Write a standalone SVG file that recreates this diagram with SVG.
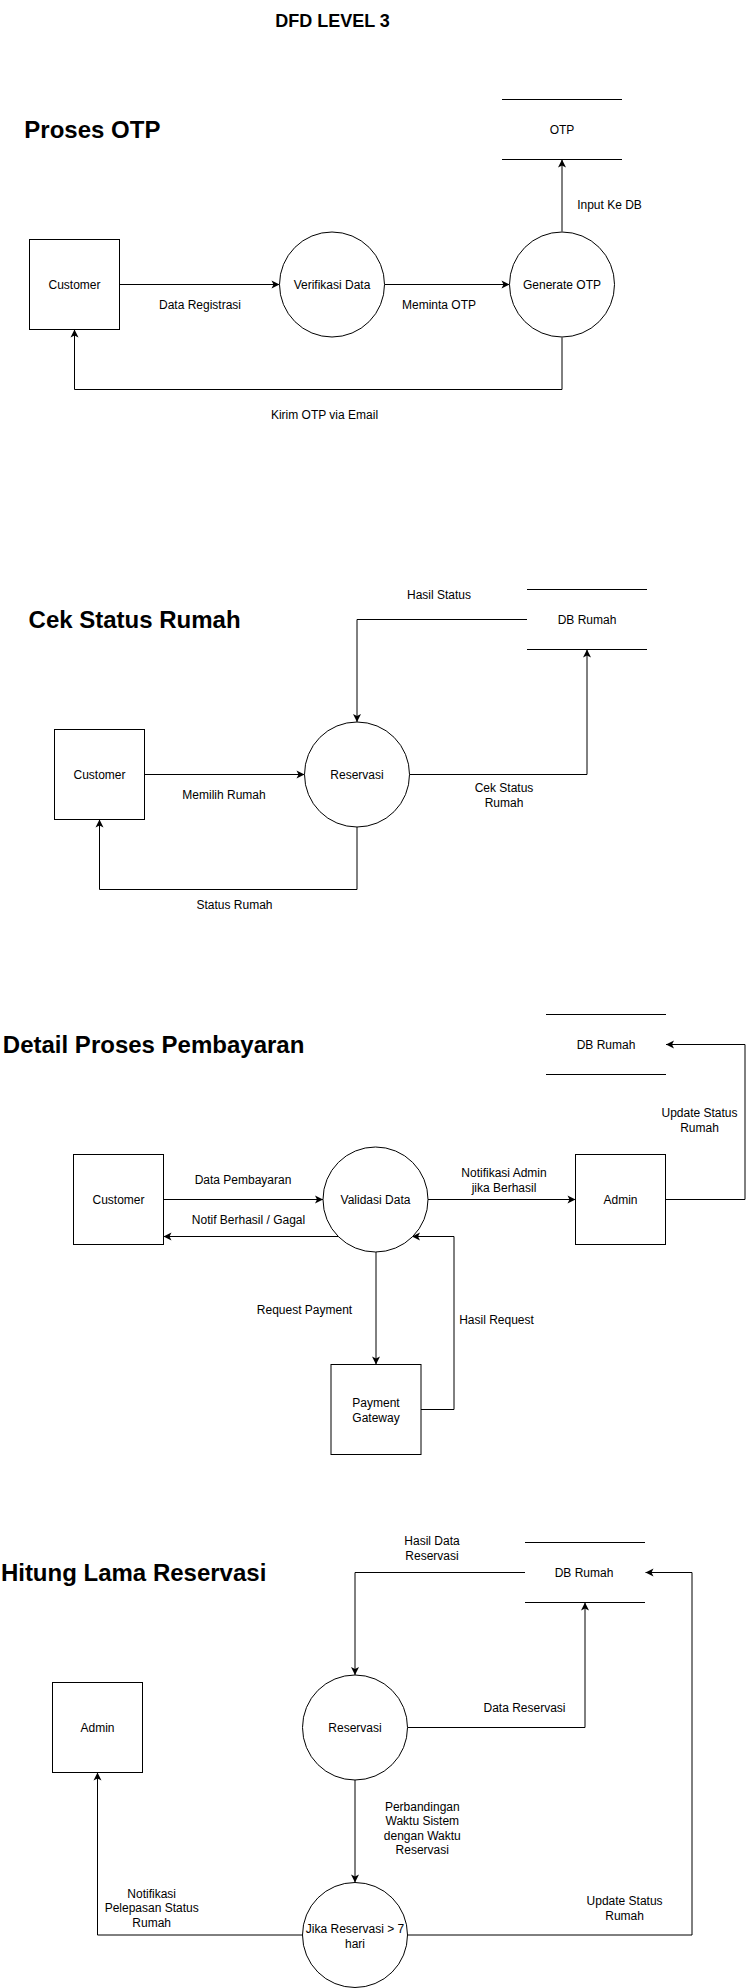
<svg xmlns="http://www.w3.org/2000/svg" width="755" height="1988" viewBox="0 0 755 1988">
<defs>
<marker id="arr" markerUnits="userSpaceOnUse" markerWidth="9" markerHeight="9" viewBox="0 0 9 9" refX="8.5" refY="4.5" orient="auto"><path d="M8.5,4.5 L0.5,0.5 L2.5,4.5 L0.5,8.5 Z" fill="#000"/></marker>
<style>
text{font-family:"Liberation Sans",Arial,sans-serif;font-size:12px;fill:#000;text-anchor:middle}
.h{font-weight:bold;font-size:24px}
.t{font-weight:bold;font-size:18px}
.n{fill:#fff;stroke:#000;stroke-width:1}
.s{stroke:#000;stroke-width:1;fill:none}
#connectors path{fill:none;stroke:#000;stroke-width:1;marker-end:url(#arr)}
</style>
</defs>
<rect width="755" height="1988" fill="#fff"/>

<g id="titles">
<text class="t" x="332.5" y="26.5">DFD LEVEL 3</text>
<text class="h" x="92.4" y="137.5">Proses OTP</text>
<text class="h" x="134.6" y="627.8">Cek Status Rumah</text>
<text class="h" x="153.6" y="1052.5">Detail Proses Pembayaran</text>
<text class="h" x="133.6" y="1581.3">Hitung Lama Reservasi</text>
</g>

<g id="connectors">
<!-- Proses OTP -->
<path d="M119.5,284.5 H279.5"/>
<path d="M384.5,284.5 H509.5"/>
<path d="M562,231.5 V159.5"/>
<path d="M562,337.5 V389.5 H74.5 V329.5"/>
<!-- Cek Status Rumah -->
<path d="M144.5,774.5 H304.5"/>
<path d="M409.5,774.5 H587 V649.5"/>
<path d="M527,619.5 H357 V722"/>
<path d="M357,827 V889.5 H99.5 V819.5"/>
<!-- Detail Proses Pembayaran -->
<path d="M163.5,1199.5 H323"/>
<path d="M339,1236.5 H163.5"/>
<path d="M428,1199.5 H575.5"/>
<path d="M665.5,1199.5 H745 V1044.5 H666"/>
<path d="M376,1252 V1364.5"/>
<path d="M421,1409.5 H454 V1236.5 H412"/>
<!-- Hitung Lama Reservasi -->
<path d="M525,1572.5 H355 V1675"/>
<path d="M407.5,1727.5 H585 V1602.5"/>
<path d="M355,1780 V1882.5"/>
<path d="M302.5,1935 H97.5 V1772.5"/>
<path d="M407.5,1935 H692 V1572.5 H645.5"/>
</g>

<g id="edge-labels">
<text x="200" y="308.6">Data Registrasi</text>
<text x="439" y="308.6">Meminta OTP</text>
<text x="609.5" y="209.3">Input Ke DB</text>
<text x="324.5" y="419.3">Kirim OTP via Email</text>

<text x="439" y="599">Hasil Status</text>
<text x="224" y="799">Memilih Rumah</text>
<text x="504" y="792">Cek Status</text>
<text x="504" y="807">Rumah</text>
<text x="234.5" y="908.6">Status Rumah</text>

<text x="243" y="1184.3">Data Pembayaran</text>
<text x="248.5" y="1224.3">Notif Berhasil / Gagal</text>
<text x="504" y="1177">Notifikasi Admin</text>
<text x="504" y="1192">jika Berhasil</text>
<text x="699.5" y="1117">Update Status</text>
<text x="699.5" y="1132">Rumah</text>
<text x="304.5" y="1314.3">Request Payment</text>
<text x="496.5" y="1324.3">Hasil Request</text>

<text x="432" y="1545">Hasil Data</text>
<text x="432" y="1559.6">Reservasi</text>
<text x="524.5" y="1712.3">Data Reservasi</text>
<text x="422.3" y="1811">Perbandingan</text>
<text x="422.3" y="1825">Waktu Sistem</text>
<text x="422.3" y="1839.6">dengan Waktu</text>
<text x="422.3" y="1854.3">Reservasi</text>
<text x="151.7" y="1898.3">Notifikasi</text>
<text x="151.7" y="1912.3">Pelepasan Status</text>
<text x="151.7" y="1927">Rumah</text>
<text x="624.6" y="1905">Update Status</text>
<text x="624.6" y="1920">Rumah</text>
</g>

<!-- Proses OTP nodes -->
<g id="customer-1"><rect class="n" x="29.5" y="239.5" width="90" height="90"/><text x="74.5" y="288.6">Customer</text></g>
<g id="verifikasi-data"><circle class="n" cx="332" cy="284.5" r="52.5"/><text x="332" y="288.6">Verifikasi Data</text></g>
<g id="generate-otp"><circle class="n" cx="562" cy="284.5" r="52.5"/><text x="562" y="288.6">Generate OTP</text></g>
<g id="store-otp"><path class="s" d="M502,99.5 H622 M502,159.5 H622"/><text x="562" y="133.5">OTP</text></g>

<!-- Cek Status Rumah nodes -->
<g id="customer-2"><rect class="n" x="54.5" y="729.5" width="90" height="90"/><text x="99.5" y="778.6">Customer</text></g>
<g id="reservasi-2"><circle class="n" cx="357" cy="774.5" r="52.5"/><text x="357" y="778.6">Reservasi</text></g>
<g id="db-rumah-2"><path class="s" d="M527,589.5 H647 M527,649.5 H647"/><text x="587" y="624">DB Rumah</text></g>

<!-- Detail Proses Pembayaran nodes -->
<g id="customer-3"><rect class="n" x="73.5" y="1154.5" width="90" height="90"/><text x="118.5" y="1203.6">Customer</text></g>
<g id="validasi-data"><circle class="n" cx="375.5" cy="1199.5" r="52.5"/><text x="375.5" y="1203.6">Validasi Data</text></g>
<g id="admin-3"><rect class="n" x="575.5" y="1154.5" width="90" height="90"/><text x="620.5" y="1203.6">Admin</text></g>
<g id="payment-gateway"><rect class="n" x="331" y="1364.5" width="90" height="90"/><text x="376" y="1407">Payment</text><text x="376" y="1422">Gateway</text></g>
<g id="db-rumah-3"><path class="s" d="M546,1014.5 H666 M546,1074.5 H666"/><text x="606" y="1048.6">DB Rumah</text></g>

<!-- Hitung Lama Reservasi nodes -->
<g id="db-rumah-4"><path class="s" d="M525,1542.5 H645 M525,1602.5 H645"/><text x="584" y="1577">DB Rumah</text></g>
<g id="admin-4"><rect class="n" x="52.5" y="1682.5" width="90" height="90"/><text x="97.5" y="1731.8">Admin</text></g>
<g id="reservasi-4"><circle class="n" cx="355" cy="1727.5" r="52.5"/><text x="355" y="1731.8">Reservasi</text></g>
<g id="jika-reservasi"><circle class="n" cx="355" cy="1935" r="52.5"/><text x="355" y="1933">Jika Reservasi &gt; 7</text><text x="355" y="1948.3">hari</text></g>
</svg>
